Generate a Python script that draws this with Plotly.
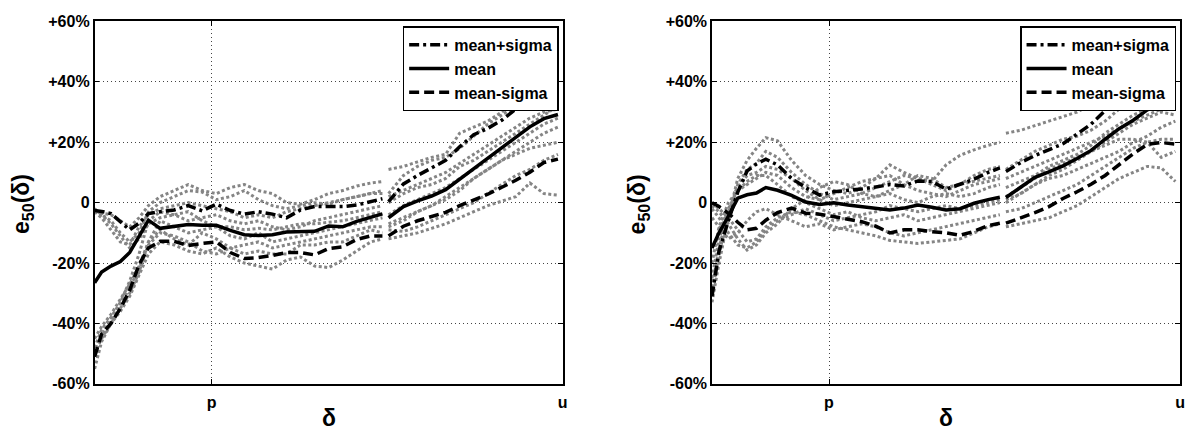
import plotly.graph_objects as go

# ---------------- data ----------------
x_seg1 = [0, 0.015, 0.035, 0.055, 0.075, 0.095, 0.115, 0.14, 0.17, 0.20, 0.23, 0.26,
          0.29, 0.32, 0.35, 0.38, 0.41, 0.44, 0.47, 0.50, 0.53, 0.56, 0.59, 0.615]
x_seg2 = [0.628, 0.66, 0.69, 0.72, 0.75, 0.78, 0.81, 0.84, 0.87, 0.90, 0.93, 0.96, 0.99]
x_grid = x_seg1 + [None] + x_seg2

x_tick_vals = [0.25, 1.0]
x_tick_text = ["p", "u"]
y_tick_vals = [-60, -40, -20, 0, 20, 40, 60]
y_tick_text = ["-60%", "-40%", "-20%", "0", "+20%", "+40%", "+60%"]

series_names = ["mean+sigma", "mean", "mean-sigma"]

# left panel
left_upper = [-2.6, -2.9, -3.6, -6.4, -9.0, -6.8, -3.6, -3.0, -2.4, -1.0, -2.7, -0.5,
              -2.6, -3.8, -3.0, -3.8, -5.0, -2.4, -1.3, -1.3, -1.3, -0.8, 0.5, 1.3] + [None] + \
             [0.3, 6.2, 9.0, 11.6, 14.0, 18.5, 22.5, 24.6, 27.3, 31.0, 36.0, 39.0, 42.0]
left_mean = [-26.5, -23, -21, -19.5, -16.5, -11, -5.8, -8.5, -7.8, -7.2, -7.5, -7.5,
             -9.2, -10.6, -10.9, -10.6, -9.7, -9.6, -9.5, -7.7, -8.0, -6.2, -4.8, -3.7] + [None] + \
            [-5.0, -1.3, 0.6, 2.2, 4.3, 7.8, 11.3, 14.6, 18.1, 21.6, 25.1, 27.8, 29.2]
left_lower = [-51, -43.5, -40, -35, -29, -20.5, -15, -12.8, -12.8, -14.2, -13.5, -13.0,
              -16.5, -18.5, -18.2, -17.5, -16.5, -16.5, -17.3, -15.2, -14.6, -12.2, -11, -11] + [None] + \
             [-11, -7.8, -6.0, -4.6, -3.2, -1.0, 0.8, 2.8, 5.1, 7.4, 10.1, 13.3, 14.4]

left_g1 = [-3, -3.5, -4, -6, -8, -5, -1, 2, 4, 6, 4, 3, 5, 6, 4, 3, 0, -0.5, 1, 3, 4, 5.5, 6.5, 7] + [None] + \
          [11, 12, 13.5, 15, 16, 23, 25, 27, 30, 34, 38, 42, 45]
left_g2 = [-2, -4, -6, -10, -13, -10, -3, 0, 2, 4, 3.5, 1, 2, 4, 1, -1, -2, -1, 0, -0.5, 1, 2, 3, 4] + [None] + \
          [3, 9, 12, 14, 15, 18, 22, 26, 29, 32, 35, 38, 39]
left_g3 = [-48, -42, -38, -33, -26, -17, -6, -3, -4, -6, -5, -4, -6, -7, -6, -8, -9, -8, -6, -5, -4, -3, -2, -1] + [None] + \
          [2, 4, 6, 8, 10, 13, 16, 19, 22, 25, 28, 30, 31]
left_g4 = [-55, -46, -40, -35, -30, -23, -13, -6, -8, -10, -9, -8, -11, -12, -10, -13, -12, -11, -10, -9, -8, -7, -6, -5] + [None] + \
          [-4, -1, 1, 3, 5, 8, 11, 14, 17, 20, 23, 26, 28]
left_g5 = [-45, -41, -37, -32, -27, -21, -13, -9, -12, -14, -10, -12, -15, -14, -13, -15, -14, -13, -12, -11, -10, -9, -8, -8] + [None] + \
          [-7, -5, -3, -1, 2, 5, 8, 11, 14, 17, 20, 23, 25]
left_g6 = [-50, -45, -40, -36, -31, -24, -17, -13, -14, -16, -17, -15, -18, -20, -21, -22, -19, -18, -21, -21.5, -19, -16, -13, -12] + [None] + \
          [-12, -11, -10, -8.5, -7, -5, -3, -1, 0.5, 2, 6.5, 3, 2.5]
left_g7 = [-3, -4, -7, -11, -15, -12, -7, -5, -4, -3, -6, -8, -8, -9, -8.5, -9, -8, -7, -7, -6.5, -6, -5, -4, -3] + [None] + \
          [-8, -6, -3, -1, 1, 4, 8, 11, 14, 16, 18, 19, 20]
left_g8 = [-50, -44, -39, -34, -28, -22, -14, -10, -11, -13, -16, -17, -15, -17, -16, -17, -17, -14, -14, -13, -13, -11, -9, -10] + [None] + \
          [-9, -9.5, -8, -6, -4, -2, 0, 3, 6, 9, 11, 14, 16]
left_g9 = [-3, -5, -9, -13, -14, -8, -4, -2, -1, 0, -1, -2, -3, -5, -4, -5, -3, -2, -1, 0, 1, 2, 3, 3] + [None] + \
          [0, 3, 5, 6, 8, 12, 14, 17, 20, 23, 26, 29, 32]

# right panel
right_upper = [-31, -16, -6, 3.5, 10.5, 12.8, 14.4, 12.5, 8, 5, 2.5, 3.6,
               4.1, 4.5, 5.2, 6.0, 5.5, 7.2, 7.0, 4.5, 6.1, 7.8, 10, 11.5] + [None] + \
              [10.3, 13.3, 15.6, 17.5, 19.5, 22.7, 26.0, 30.5, 35.3, 38, 40, 42, 43.5]
right_mean = [-15, -10, -4.5, 1.5, 2.6, 3.2, 5.0, 4.1, 2.4, 0.2, -0.6, 0,
              -0.8, -1.3, -1.9, -2.4, -1.8, -0.8, -1.5, -2.4, -2.0, -0.2, 1.0, 1.8] + [None] + \
             [1.7, 5.3, 8.4, 10.2, 12.2, 14.6, 17.3, 21.0, 24.5, 27.3, 30.7, 32.7, 34.2]
right_lower = [0, -1.3, -3.5, -6.5, -9, -8.5, -5.8, -3.3, -1.8, -3.5, -3.8, -4.6,
               -5.3, -6.3, -7.8, -10.0, -9.0, -9.0, -9.6, -10.0, -10.8, -9.5, -7.6, -6.8] + [None] + \
              [-6.8, -5.0, -3.3, -1.3, 1.4, 3.6, 6.1, 9.0, 12.6, 16.2, 19.3, 19.9, 19.4]

right_g1 = [-33, -20, -5, 8, 14, 18, 21.5, 20.5, 14, 9, 6, 4, 3, 5, 8, 12.5, 10, 8, 7, 12.5, 15.7, 17.5, 19, 20] + [None] + \
           [23, 24, 25.5, 27, 28.5, 30, 32.5, 35, 38, 41, 44, 46, 47]
right_g2 = [-30, -17, -4, 6, 11, 13, 17, 15, 10, 6, 3, 1, 2, 3, 5, 7, 9, 8, 6, 4, 6, 9, 11, 12] + [None] + \
           [11, 14, 17, 19, 21, 22, 24, 27, 31, 35, 38, 40, 42]
right_g3 = [-1, -3, -7, -12, -15.7, -14, -10, -7, -2, 1, 5, 7, 6, 3, 2, 4, 6, 9, 8, 5, 6, 7, 8, 9] + [None] + \
           [8, 10, 12, 14, 16, 18, 20, 22, 24.5, 27, 29, 31, 32]
right_g4 = [-28, -15, -3, 5, 9, 10, 12, 11, 8, 4, 1, -1, 0, 1, 2, 3, 1, 0, 2, 3, 2, 3, 5, 6] + [None] + \
           [2, 5, 8, 11, 13, 15, 17, 20, 23, 26, 28, 30, 29]
right_g5 = [-2, -5, -10, -14, -15, -13, -9, -6, -4, -2, -4, -6, -5, -4, -3, -1, -2, -3, -2, -1, -2, -1, 0, 1] + [None] + \
           [0, 3, 6, 8, 9, 11, 13, 15, 17, 20, 22, 25, 27]
right_g6 = [-25, -12, -2, 4, 7, 9, 9, 6, 2, 0, -2, -4, -3, -5, -6, -5, -4, -6, -5, -4, -3, -2, -1, 0] + [None] + \
           [1, 3, 6, 9, 11, 14, 17, 19, 21, 21, 20, 15, 17]
right_g7 = [0, -2, -5, -9, -13, -12, -8, -5, -3, -4, -6, -8, -9, -10, -11, -12.5, -13, -13.5, -13, -12.5, -12, -10, -8, -7] + [None] + \
           [-8, -7, -6, -5, -3, -1, 2, 5, 8, 10, 12, 11.5, 7]
right_g8 = [-20, -8, 0, 4, 6, 8, 10, 9, 5, 2, 1, 3, 5, 7, 8, 9, 6, 4, 3, 2, 4, 6, 7, 8] + [None] + \
           [5, 7, 9, 12, 14, 16, 19, 23, 26, 29, 31, 33, 34]
right_g9 = [-5, -8, -12, -10, -6, -3, -2, -4, -6, -8, -7, -9, -8, -7, -8, -10, -11, -10, -9, -8, -7, -6, -5, -4] + [None] + \
           [-3, -2, 0, 2, 4, 6, 9, 12, 15, 18, 20, 21, 21]

left_grays = [left_g1, left_g2, left_g3, left_g4, left_g5, left_g6, left_g7, left_g8, left_g9]
right_grays = [right_g1, right_g2, right_g3, right_g4, right_g5, right_g6, right_g7, right_g8, right_g9]

# ---------------- figure ----------------
W, H = 1193, 439
FONT = "Liberation Sans, Arial, Helvetica, sans-serif"

def px_x(p):
    return p / W

def px_y(p):
    return 1 - p / H

fig = go.Figure()

gray_style = dict(color="#858585", width=3, dash="3px,2.5px")
black_styles = [
    dict(color="black", width=3.5, dash="10px,4px,3px,4px"),
    dict(color="black", width=3.5),
    dict(color="black", width=3.5, dash="10px,5px"),
]

panels = [
    ("x", "y", "legend", left_grays, [left_upper, left_mean, left_lower]),
    ("x2", "y2", "legend2", right_grays, [right_upper, right_mean, right_lower]),
]

for xa, ya, leg, grays, blacks in panels:
    for g in grays:
        fig.add_trace(go.Scatter(x=x_grid, y=g, mode="lines", line=gray_style,
                                 showlegend=False, hoverinfo="skip",
                                 xaxis=xa, yaxis=ya))
    for name, vals, st in zip(series_names, blacks, black_styles):
        fig.add_trace(go.Scatter(x=x_grid, y=vals, mode="lines", line=st, name=name,
                                 legend=leg, xaxis=xa, yaxis=ya))

axis_common = dict(
    showline=True, linecolor="black", linewidth=1.5, mirror="ticks",
    ticks="inside", ticklen=5, tickcolor="black", tickwidth=1,
    showgrid=True, gridcolor="#444444", griddash="1px,3px", gridwidth=1,
    zeroline=False,
    tickfont=dict(family=FONT, size=16, color="black", weight="bold"),
)

y_dom = [px_y(391), px_y(14)]
fig.update_layout(
    width=W, height=H,
    margin=dict(l=0, r=0, t=0, b=0),
    paper_bgcolor="white", plot_bgcolor="white",
    xaxis=dict(domain=[px_x(95), px_x(565)], range=[0, 1], tickvals=x_tick_vals,
               ticktext=x_tick_text, anchor="y", ticklabelstandoff=3, **axis_common),
    yaxis=dict(domain=y_dom, range=[-60, 60], tickvals=y_tick_vals,
               ticktext=y_tick_text, anchor="x", **axis_common),
    xaxis2=dict(domain=[px_x(715), px_x(1185)], range=[0, 1], tickvals=x_tick_vals,
                ticktext=x_tick_text, anchor="y2", ticklabelstandoff=3, **axis_common),
    yaxis2=dict(domain=y_dom, range=[-60, 60], tickvals=y_tick_vals,
                ticktext=y_tick_text, anchor="x2", **axis_common),
)

legend_common = dict(
    xanchor="right", yanchor="top", y=px_y(19),
    bgcolor="white", bordercolor="black", borderwidth=1.5,
    font=dict(family=FONT, size=16, color="black", weight="bold"),
    itemwidth=40, tracegroupgap=0,
)
fig.update_layout(
    legend=dict(x=px_x(561), **legend_common),
    legend2=dict(x=px_x(1181), **legend_common),
)

title_font = dict(family=FONT, size=23, color="black", weight="bold")
annos = []
for cx, ex in [(330, 22), (950, 641)]:
    annos.append(dict(text="δ", x=px_x(cx), y=px_y(426), xref="paper", yref="paper",
                      showarrow=False, font=title_font, xanchor="center", yanchor="middle"))
    annos.append(dict(text="e<sub>50</sub>(δ)", x=px_x(ex), y=px_y(204), xref="paper",
                      yref="paper", showarrow=False, font=title_font, textangle=-90,
                      xanchor="center", yanchor="middle"))
fig.update_layout(annotations=annos)

fig.write_html("out.html")
